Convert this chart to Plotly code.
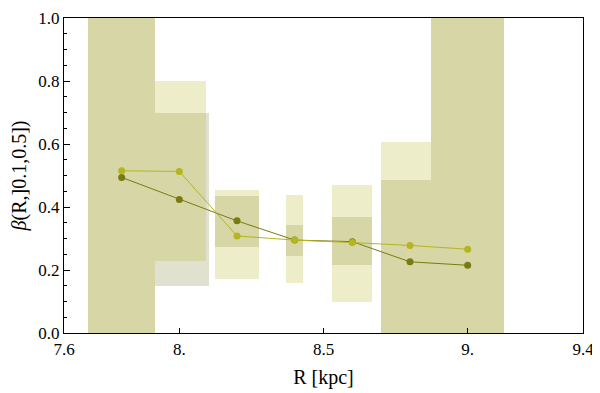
import plotly.graph_objects as go

# Radial bin centres [kpc]
R = [7.8, 8.0, 8.2, 8.4, 8.6, 8.8, 9.0]

# Point estimates of beta for the two series
beta_light = [0.515, 0.513, 0.308, 0.295, 0.287, 0.278, 0.266]
beta_dark = [0.494, 0.424, 0.356, 0.295, 0.290, 0.226, 0.215]

# Uncertainty bands (lower / upper) and half-widths in R
light_lo = [0.0, 0.23, 0.171, 0.159, 0.100, 0.0, 0.0]
light_hi = [1.0, 0.80, 0.455, 0.439, 0.469, 0.607, 1.0]
light_hw = [0.116, 0.092, 0.076, 0.029, 0.069, 0.100, 0.126]

dark_lo = [0.0, 0.15, 0.274, 0.246, 0.215, 0.0, 0.0]
dark_hi = [1.0, 0.70, 0.436, 0.343, 0.368, 0.487, 1.0]
dark_hw = [0.116, 0.104, 0.076, 0.029, 0.069, 0.100, 0.126]

x_tickvals = [7.6, 8.0, 8.5, 9.0, 9.4]
x_ticktext = ["7.6", "8.", "8.5", "9.", "9.4"]
y_tickvals = [0.0, 0.2, 0.4, 0.6, 0.8, 1.0]
y_ticktext = ["0.0", "0.2", "0.4", "0.6", "0.8", "1.0"]

LIGHT = "rgb(181,181,31)"
DARK = "rgb(122,122,18)"
FONT = "Liberation Serif"

fig = go.Figure()

fig.add_trace(go.Bar(
    x=R, y=[h - l for h, l in zip(dark_hi, dark_lo)], base=dark_lo,
    width=[2 * w for w in dark_hw],
    marker=dict(color="rgb(140,140,70)", line=dict(width=0)),
    opacity=0.25, showlegend=False, hoverinfo="skip"))
fig.add_trace(go.Bar(
    x=R, y=[h - l for h, l in zip(light_hi, light_lo)], base=light_lo,
    width=[2 * w for w in light_hw],
    marker=dict(color=LIGHT, line=dict(width=0)),
    opacity=0.23, showlegend=False, hoverinfo="skip"))

fig.add_trace(go.Scatter(
    x=R, y=beta_dark, mode="lines+markers",
    line=dict(color=DARK, width=1), marker=dict(color=DARK, size=7),
    showlegend=False))
fig.add_trace(go.Scatter(
    x=R, y=beta_light, mode="lines+markers",
    line=dict(color=LIGHT, width=1), marker=dict(color=LIGHT, size=7),
    showlegend=False))

fig.update_layout(
    width=592, height=385,
    margin=dict(l=56, r=17, t=10, b=60),
    plot_bgcolor="white", paper_bgcolor="white",
    barmode="overlay", bargap=0,
    font=dict(family=FONT, size=17, color="black"),
    xaxis=dict(
        range=[7.6, 9.4], tickvals=x_tickvals, ticktext=x_ticktext,
        ticks="inside", ticklen=5, tickwidth=1, tickcolor="black",
        showline=True, linecolor="black", linewidth=1.3, mirror=True,
        showgrid=False, zeroline=False, automargin=False,
        ticklabeloverflow="allow",
        tickfont=dict(family=FONT, size=17),
        title=dict(text="R [kpc]", font=dict(family=FONT, size=20), standoff=12),
    ),
    yaxis=dict(
        range=[0, 1], tickvals=y_tickvals, ticktext=y_ticktext,
        ticks="inside", ticklen=6, tickwidth=1, tickcolor="black",
        minor=dict(dtick=0.05, ticks="inside", ticklen=3, tickcolor="black", showgrid=False),
        showline=True, linecolor="black", linewidth=1.3, mirror=True,
        showgrid=False, zeroline=False, automargin=False,
        ticklabeloverflow="allow",
        tickfont=dict(family=FONT, size=17),
        title=dict(text="<i>β</i>(R,]0.1,0.5])", font=dict(family=FONT, size=20), standoff=6),
    ),
)

fig.write_html("out.html")
